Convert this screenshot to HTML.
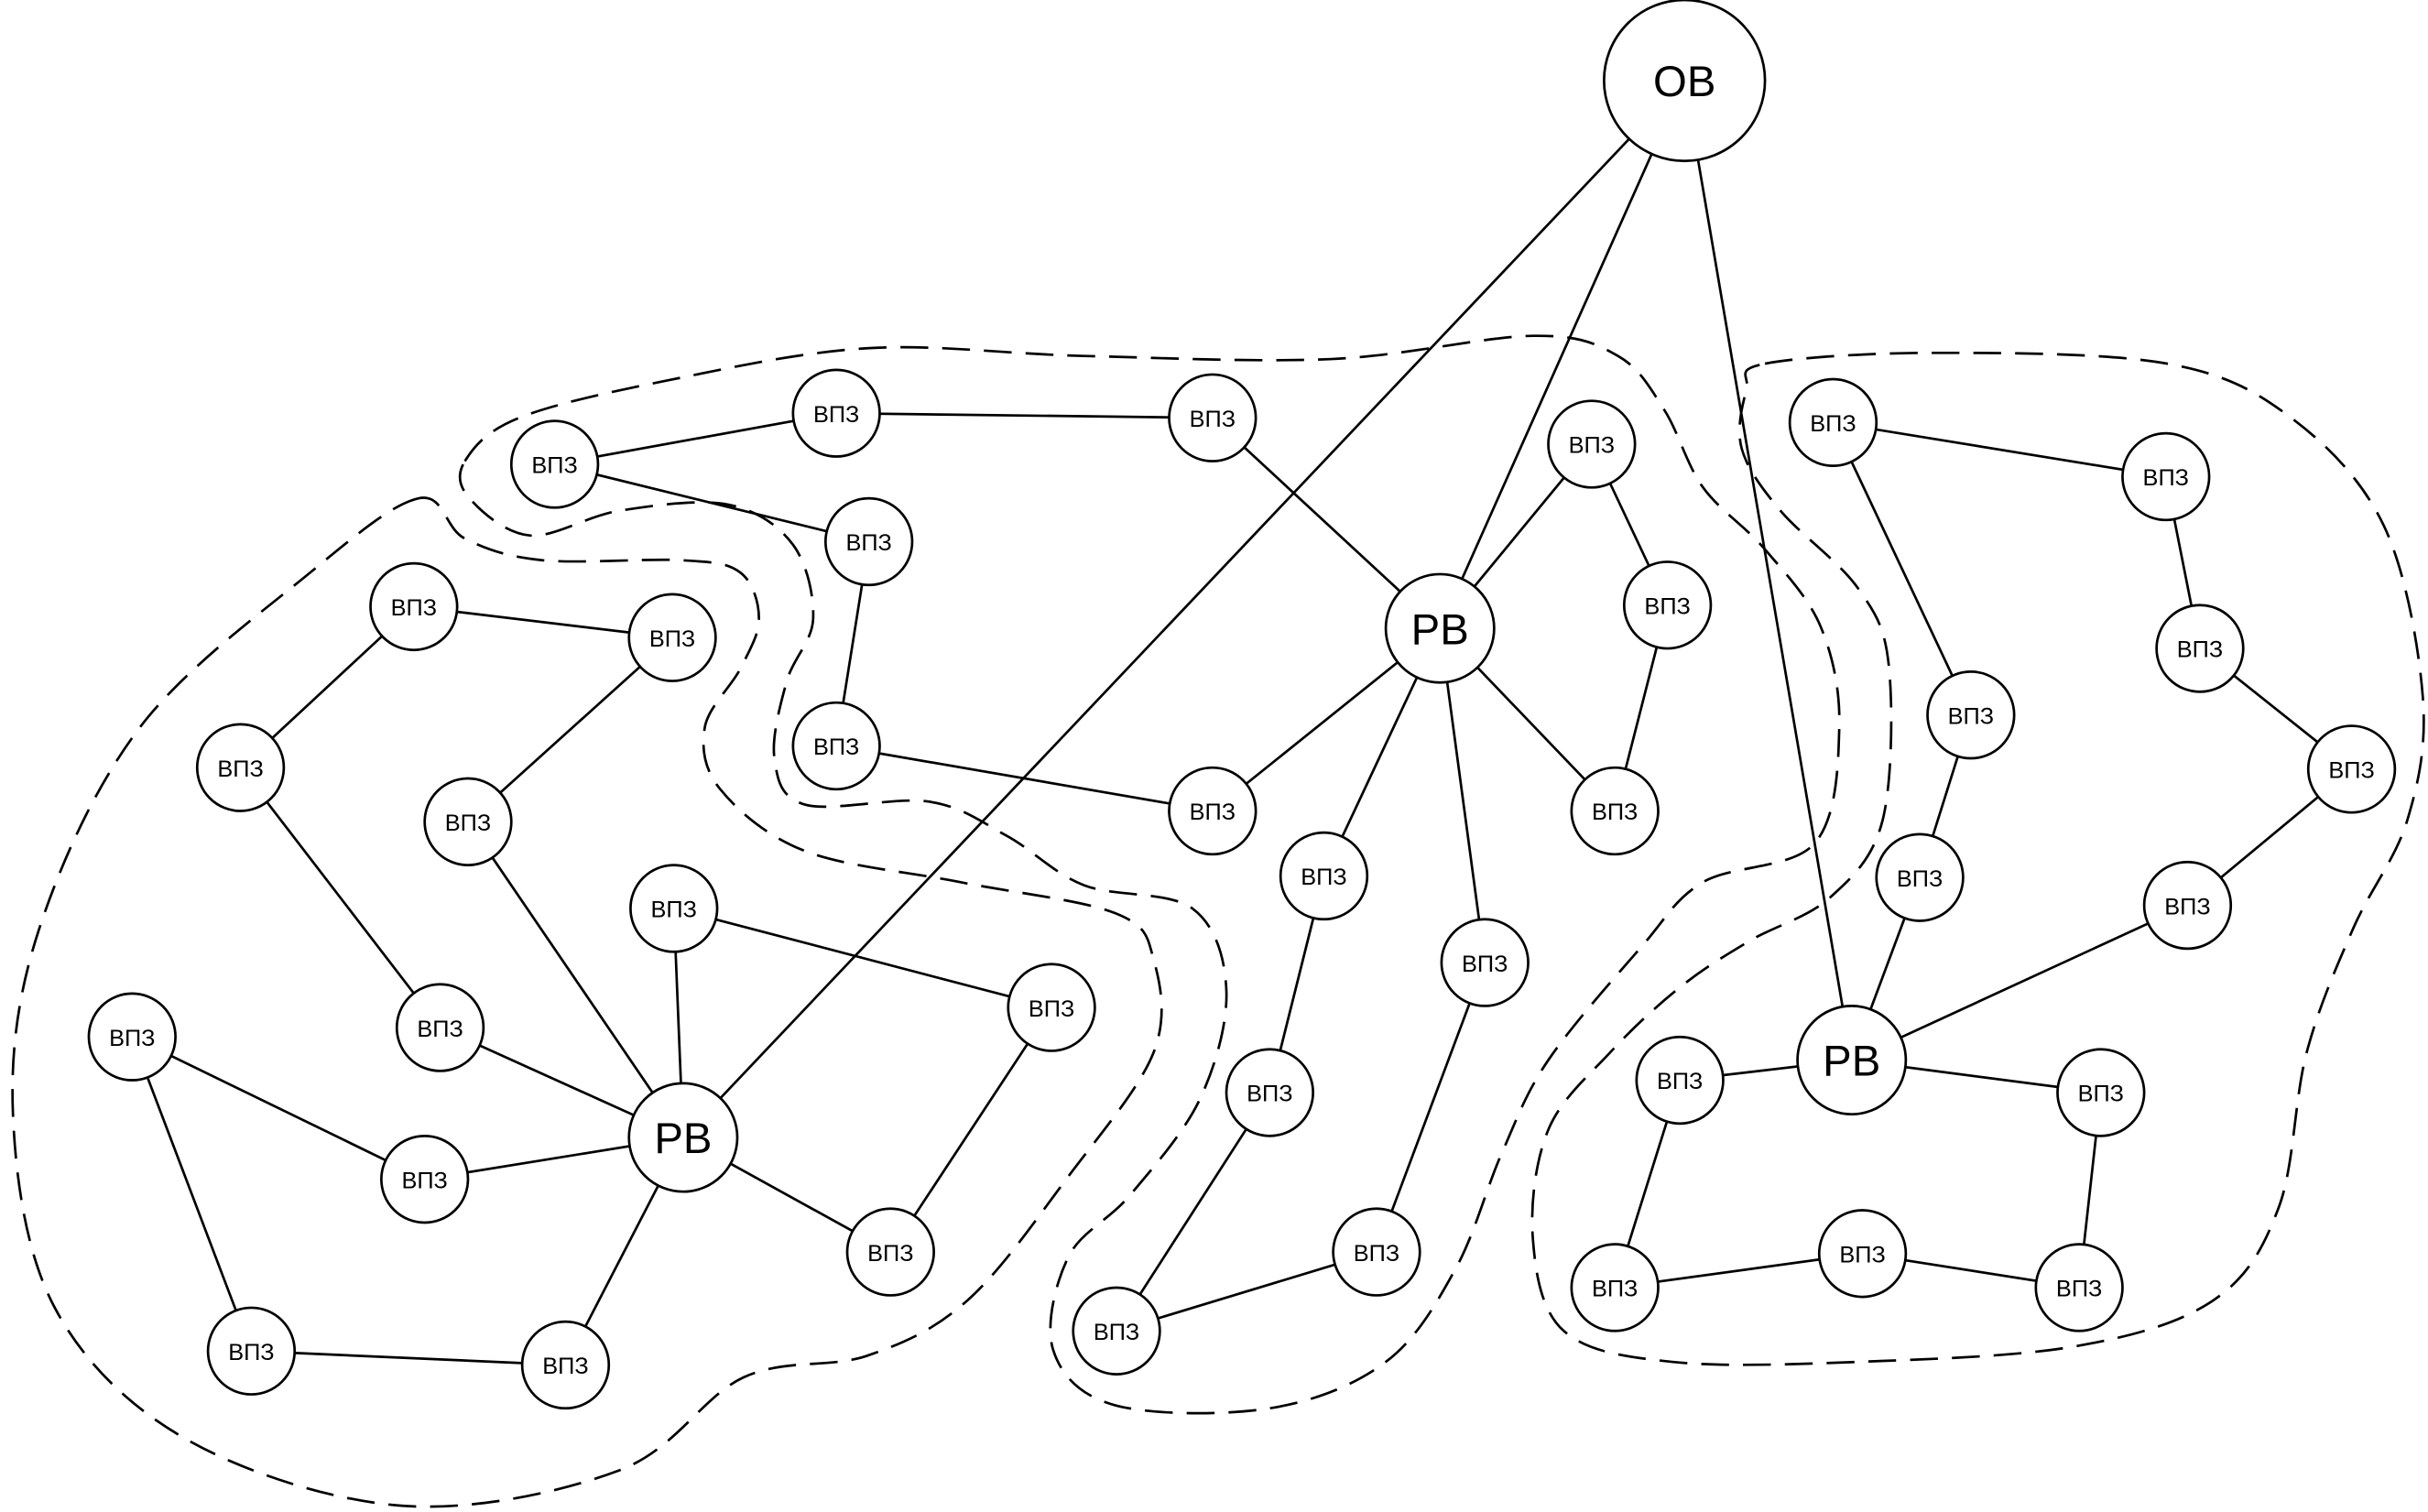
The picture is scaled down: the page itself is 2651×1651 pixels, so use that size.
<!DOCTYPE html>
<html><head><meta charset="utf-8">
<style>
html,body{margin:0;padding:0;background:#fff;}
svg{display:block;}
text{font-family:"Liberation Sans",Arial,sans-serif;text-anchor:middle;dominant-baseline:central;fill:#000;}
</style></head>
<body>
<svg id="s" xmlns="http://www.w3.org/2000/svg" width="2651" height="1651" viewBox="0 0 1568 977">
<rect width="1568" height="977" fill="#fff"/>
<g id="dash" fill="none" stroke="#000" stroke-width="1.6" stroke-dasharray="18,9"></g>
<g id="edges" stroke="#000" stroke-width="1.6"></g>
<g id="nodes"></g>
</svg>
<script>
var N={
OB:[1088,52,52,'ОВ',28],RB1:[441,735,35,'РВ',28],RB2:[930,406,35,'РВ',28],RB3:[1196,685,35,'РВ',28],
a1:[358,300],a2:[540,267],a3:[783,270],a4:[561,350],a5:[540,482],a6:[783,524],
b1:[267,392],b2:[434,412],b3:[155,496],b4:[302,531],b5:[435,587],b6:[679,651],b7:[284,664],b8:[85,670],b9:[274,762],b10:[575,809],b11:[162,873],b12:[365,882],
c1:[1028,287],c2:[1077,391],c3:[1043,524],c4:[855,566],c5:[959,622],c6:[820,706],c7:[889,809],c8:[721,860],
d1:[1184,273],d2:[1399,308],d3:[1421,419],d4:[1519,497],d5:[1273,462],d6:[1240,567],d7:[1413,585],d8:[1085,698],d9:[1357,706],d10:[1043,832],d11:[1203,810],d12:[1343,832]};
var E="a1-a2 a2-a3 a1-a4 a4-a5 a5-a6 a3-RB2 a6-RB2 OB-RB1 OB-RB2 OB-RB3 RB2-c1 c1-c2 c2-c3 c3-RB2 RB2-c4 c4-c6 c6-c8 c8-c7 c7-c5 c5-RB2 b1-b2 b1-b3 b3-b7 b7-RB1 b2-b4 b4-RB1 b5-RB1 b5-b6 b6-b10 b10-RB1 b8-b9 b9-RB1 b8-b11 b11-b12 b12-RB1 d1-d2 d2-d3 d3-d4 d4-d7 d7-RB3 d1-d5 d5-d6 d6-RB3 d8-RB3 d8-d10 d10-d11 d11-d12 d12-d9 d9-RB3".split(' ');
var ns="http://www.w3.org/2000/svg";
function el(t,a,p){var e=document.createElementNS(ns,t);for(var k in a)e.setAttribute(k,a[k]);p.appendChild(e);return e;}
var eg=document.getElementById('edges'),ng=document.getElementById('nodes'),dg=document.getElementById('dash');
E.forEach(function(s){var p=s.split('-'),A=N[p[0]],B=N[p[1]];el('line',{x1:A[0],y1:A[1],x2:B[0],y2:B[1]},eg);});
for(var k in N){var n=N[k],r=n[2]||28;el('circle',{cx:n[0],cy:n[1],r:r,fill:'#fff',stroke:'#000','stroke-width':1.6},ng);
var t=el('text',{x:n[0],y:n[1]+1,'font-size':n[4]||15},ng);t.textContent=n[3]||'ВПЗ';}
function smooth(P){var n=P.length,d='M'+P[0][0]+','+P[0][1];
for(var i=0;i<n;i++){var p0=P[(i-1+n)%n],p1=P[i],p2=P[(i+1)%n],p3=P[(i+2)%n];
d+=' C'+(p1[0]+(p2[0]-p0[0])/6)+','+(p1[1]+(p2[1]-p0[1])/6)+' '+(p2[0]-(p3[0]-p1[0])/6)+','+(p2[1]-(p3[1]-p1[1])/6)+' '+p2[0]+','+p2[1];}
return d+'Z';}
var L=[[270,322],[200,370],[90,470],[25,600],[8,720],[35,845],[120,930],[260,973],[400,950],[480,890],[560,876],[625,840],[690,760],[745,680],[745,620],[720,590],[620,570],[520,550],[465,510],[455,470],[478,432],[490,400],[478,370],[440,362],[350,362],[300,348]];
var T=[[300,298],[335,270],[430,246],[560,225],[700,230],[860,232],[990,217],[1045,230],[1075,265],[1100,315],[1140,355],[1176,405],[1188,470],[1172,545],[1100,570],[1060,612],[1000,685],[970,745],[940,820],[895,880],[820,910],[720,908],[680,872],[690,812],[730,772],[775,710],[792,640],[770,587],[700,572],[650,540],[600,518],[520,520],[500,490],[508,440],[525,400],[512,352],[470,326],[400,330],[342,346],[303,322]];
var R=[[1140,235],[1250,228],[1400,235],[1480,270],[1540,340],[1565,450],[1555,530],[1520,600],[1490,680],[1472,780],[1430,840],[1340,870],[1200,880],[1080,880],[1010,860],[990,800],[1000,730],[1040,680],[1085,638],[1130,608],[1182,580],[1216,530],[1220,430],[1200,380],[1150,330],[1125,290],[1128,252]];
[L,T,R].forEach(function(P){el('path',{d:smooth(P)},dg);});
</script>
</body></html>
